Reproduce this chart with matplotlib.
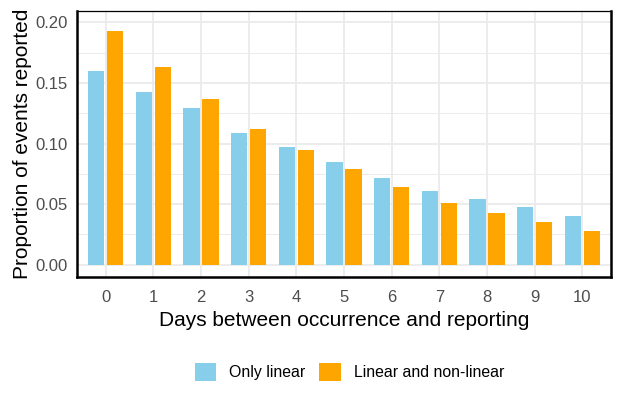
import matplotlib.pyplot as plt
import numpy as np
from matplotlib.patches import Patch

plt.rcParams['font.family'] = ['Liberation Sans', 'DejaVu Sans']

days = list(range(11))
only_linear = [0.160, 0.143, 0.129, 0.109, 0.097, 0.085, 0.072, 0.061, 0.054, 0.048, 0.040]
linear_nonlinear = [0.193, 0.163, 0.137, 0.112, 0.095, 0.079, 0.064, 0.051, 0.043, 0.035, 0.028]
series_names = ['Only linear', 'Linear and non-linear']
colors = ['#87CEEB', '#FFA500']

W, H = 622, 405
fig = plt.figure(figsize=(W / 100, H / 100), dpi=100)
ax = fig.add_axes([77 / W, (H - 276.5) / H, (611 - 77) / W, (276.5 - 10.7) / H])

x = np.array(days)
bw = 0.34
ax.bar(x - 0.2, only_linear, width=bw, color=colors[0], zorder=3)
ax.bar(x + 0.2, linear_nonlinear, width=bw, color=colors[1], zorder=3)

ax.set_xlim(-0.6, 10.6)
ax.set_ylim(-0.0097, 0.2097)
ax.set_xticks(days)
ax.set_yticks([0, 0.05, 0.10, 0.15, 0.20])
ax.set_yticklabels(['0.00', '0.05', '0.10', '0.15', '0.20'])
ax.set_yticks([0.025, 0.075, 0.125, 0.175], minor=True)
ax.grid(True, which='major', color='#EBEBEB', linewidth=1.3, zorder=0)
ax.grid(True, which='minor', axis='y', color='#EBEBEB', linewidth=0.7, zorder=0)
ax.tick_params(which='both', length=0, labelsize=12, labelcolor='#4D4D4D')
ax.tick_params(axis='x', pad=10)
ax.tick_params(axis='y', pad=7)

for side, sp in ax.spines.items():
    sp.set_color('black')
    sp.set_linewidth(0.9 if side == 'top' else 1.8)

ax.set_xlabel('Days between occurrence and reporting', fontsize=15, labelpad=4)
ax.set_ylabel('Proportion of events reported', fontsize=15, labelpad=2)

handles = [Patch(facecolor=c, edgecolor='none') for c in colors]
fig.legend(handles, series_names, loc='center', bbox_to_anchor=(349.5 / W, (H - 372) / H),
           ncol=2, frameon=False, fontsize=11.4, handlelength=1.35, handleheight=1.35,
           handletextpad=0.85, columnspacing=0.85)

fig.savefig('out.png', dpi=100)
